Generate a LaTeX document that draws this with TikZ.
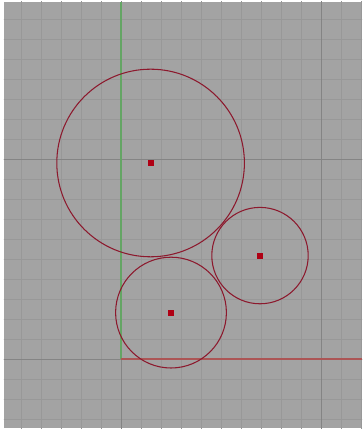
\documentclass[tikz,border=0pt]{standalone}
\usepackage{tikz}
\usetikzlibrary{calc}

\definecolor{viewbg}{RGB}{163,163,163}
\definecolor{gridminor}{RGB}{152,152,152}
\definecolor{gridmajor}{RGB}{132,132,132}
\definecolor{axisgreen}{RGB}{100,165,100}
\definecolor{axisred}{RGB}{172,85,85}
\definecolor{circred}{RGB}{140,25,45}
\definecolor{dotred}{RGB}{175,0,20}

\begin{document}
\begin{tikzpicture}[x=0.5cm,y=0.5cm,line width=0.7pt,
  minorgrid/.style={gridminor,line width=0.6pt},
  majorgrid/.style={gridmajor,line width=0.7pt},
  axisline/.style={line width=1.9pt},
  circline/.style={circred,line width=0.75pt},
  centerdot/.style={fill=dotred,minimum size=4.2pt,inner sep=0pt,draw=none}]
\useasboundingbox (-6.05,-3.55) rectangle (12.1,17.95);

% viewport
\fill[viewbg] (-5.85,-3.45) rectangle (12.05,17.85);
\begin{scope}
\clip (-5.85,-3.45) rectangle (12.05,17.85);
\draw[minorgrid,step=1] (-6,-4) grid (13,18);
\draw[majorgrid,step=10] (-6,-4) grid (13,18);
\end{scope}

% axes
\coordinate (o) at (0,0);
\draw[axisline,axisgreen] (o) -- (0,17.85);
\draw[axisline,axisred] (o) -- (12.05,0);

% circles
\coordinate (cbig) at (1.48,9.8);
\coordinate (clow) at (2.5,2.32);
\coordinate (cright) at (6.95,5.17);
\draw[circline] (cbig) circle (4.69);
\draw[circline] (clow) circle (2.77);
\draw[circline] (cright) circle (2.41);

\node[centerdot] (dbig) at (cbig) {};
\node[centerdot] (dlow) at (clow) {};
\node[centerdot] (dright) at (cright) {};
\end{tikzpicture}
\end{document}
